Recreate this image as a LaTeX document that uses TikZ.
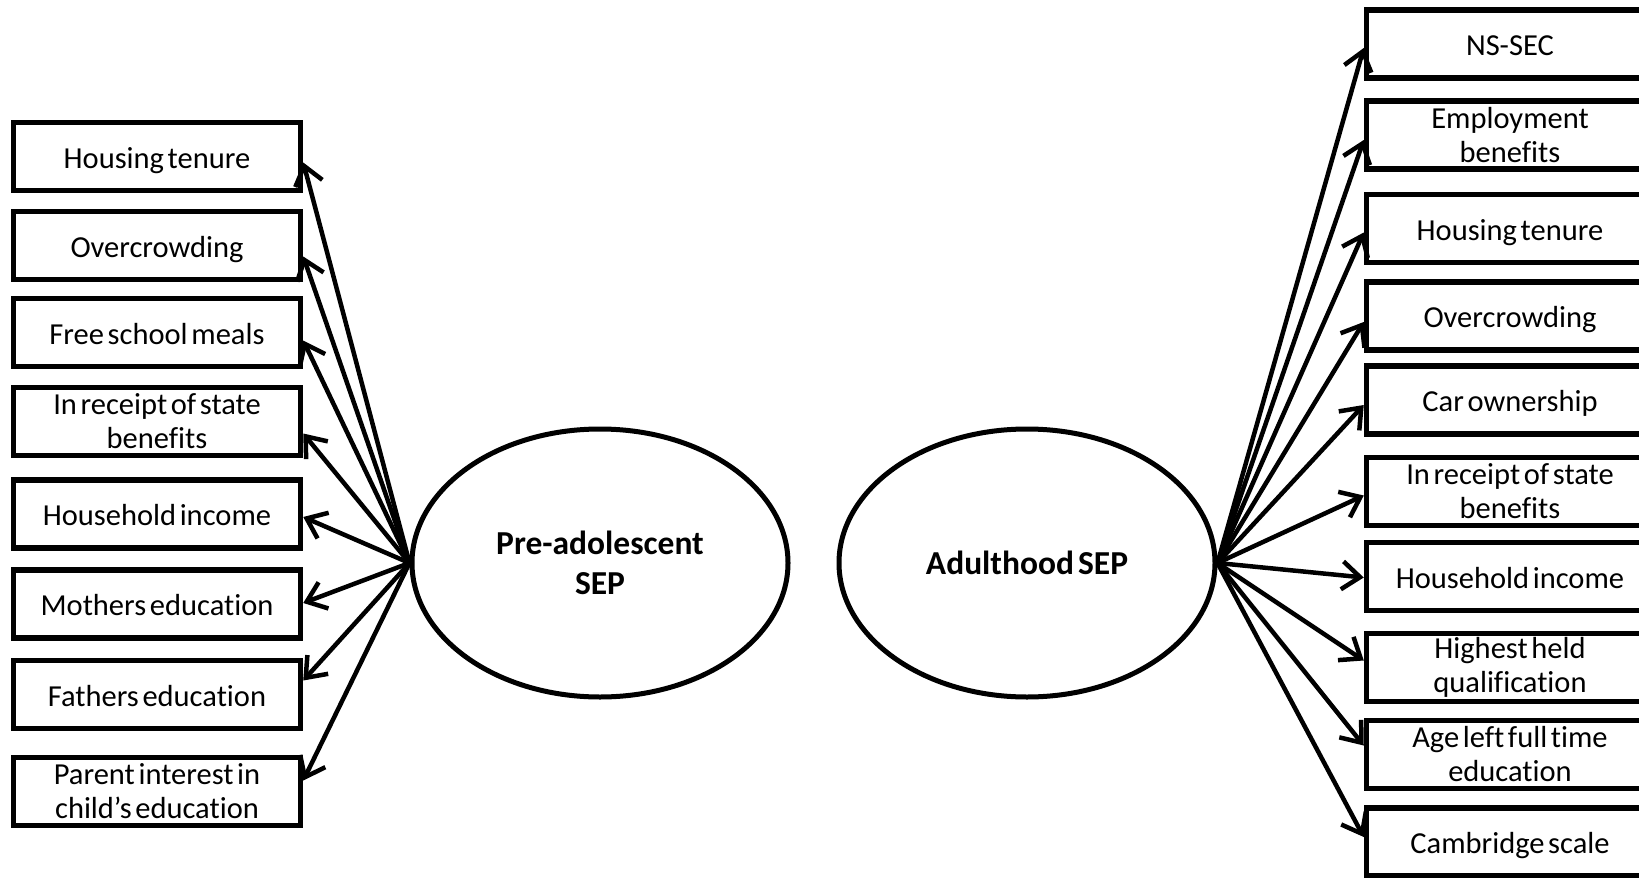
\documentclass[tikz,border=0pt]{standalone}
\usepackage{fontspec}
\setmainfont[Ligatures=NoCommon]{Carlito}
\usetikzlibrary{arrows.meta,shapes.geometric}
% narrower interword spacing for the labels
\newcommand\tightwords{\spaceskip=0.12em\relax}
\begin{document}
\begin{tikzpicture}[x=1pt,y=-1pt,
  indicator/.style={draw, line width=5.5pt, rectangle, minimum width=287pt,
    minimum height=68pt, inner sep=0pt, align=center,
    font=\fontsize{30.5}{34}\selectfont\tightwords},
  oneline/.style={text height=26pt, text depth=3pt},
  latent/.style={draw, line width=5pt, ellipse, minimum width=376pt,
    minimum height=268pt, inner sep=0pt, align=center,
    font=\fontsize{33.5}{40}\selectfont\bfseries\tightwords},
  link/.style={line width=4.5pt, -{Straight Barb[length=18pt,width=28pt]}}]
\useasboundingbox (0,0) rectangle (1639,878);

% latent factors
\node[latent] (pre) at (600,563) {Pre-adolescent\\SEP};
\node[latent] (adult) at (1027,563) {Adulthood SEP};

% childhood indicators
\node[indicator,oneline] (c1) at (157,156.5) {Housing tenure};
\node[indicator,oneline] (c2) at (157,245.5) {Overcrowding};
\node[indicator,oneline] (c3) at (157,332.5) {Free school meals};
\node[indicator] (c4) at (157,421.5) {In receipt of state\\benefits};
\node[indicator,oneline] (c5) at (157,514) {Household income};
\node[indicator,oneline] (c6) at (157,604) {Mothers education};
\node[indicator,oneline] (c7) at (157,694.5) {Fathers education};
\node[indicator] (c8) at (157,791.5) {Parent interest in\\child’s education};

% adult indicators
\node[indicator,oneline] (a1) at (1510,44) {NS-SEC};
\node[indicator] (a2) at (1510,135) {Employment\\benefits};
\node[indicator,oneline] (a3) at (1510,228.5) {Housing tenure};
\node[indicator,oneline] (a4) at (1510,316) {Overcrowding};
\node[indicator,oneline] (a5) at (1510,400) {Car ownership};
\node[indicator] (a6) at (1510,491.5) {In receipt of state\\benefits};
\node[indicator,oneline] (a7) at (1510,576.5) {Household income};
\node[indicator] (a8) at (1510,667.5) {Highest held\\qualification};
\node[indicator] (a9) at (1510,754.5) {Age left full time\\education};
\node[indicator,oneline] (a10) at (1510,842) {Cambridge scale};

% loadings, childhood
\draw[link] (pre.west) -- ([yshift=-6pt]c1.east);
\draw[link] (pre.west) -- ([yshift=-11pt]c2.east);
\draw[link] (pre.west) -- ([yshift=-8pt]c3.east);
\draw[link] (pre.west) -- ([yshift=-12pt]c4.east);
\draw[link] (pre.west) -- ([yshift=-3pt]c5.east);
\draw[link] (pre.west) -- ([yshift=1pt]c6.east);
\draw[link] (pre.west) -- ([yshift=14pt]c7.east);
\draw[link] (pre.west) -- ([yshift=11pt]c8.east);

% loadings, adulthood
\draw[link] (adult.east) -- ([yshift=-4pt]a1.west);
\draw[link] (adult.east) -- ([yshift=-5pt]a2.west);
\draw[link] (adult.east) -- ([yshift=-4pt]a3.west);
\draw[link] (adult.east) -- ([yshift=-6pt]a4.west);
\draw[link] (adult.east) -- ([yshift=-5pt]a5.west);
\draw[link] (adult.east) -- ([yshift=-4pt]a6.west);
\draw[link] (adult.east) -- ([yshift=-1pt]a7.west);
\draw[link] (adult.east) -- ([yshift=7pt]a8.west);
\draw[link] (adult.east) -- ([yshift=9pt]a9.west);
\draw[link] (adult.east) -- ([yshift=5pt]a10.west);
\end{tikzpicture}
\end{document}
